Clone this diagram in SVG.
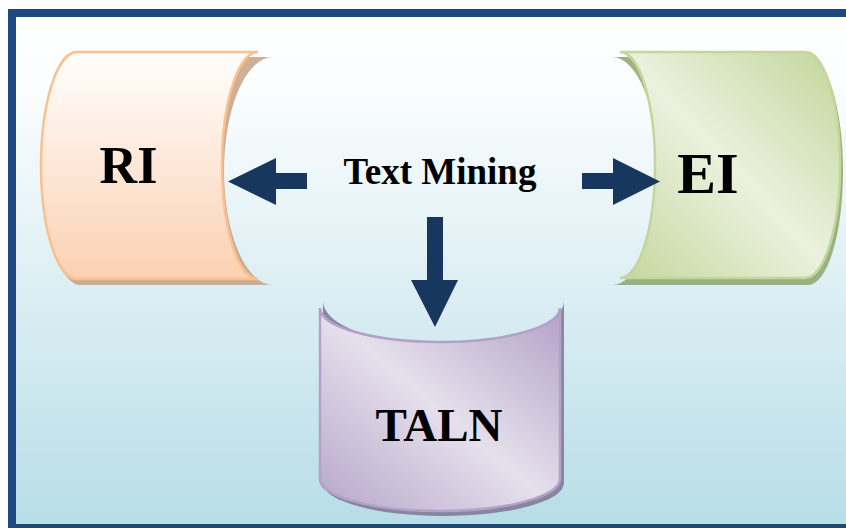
<svg xmlns="http://www.w3.org/2000/svg" width="846" height="528" viewBox="0 0 846 528">
  <defs>
    <linearGradient id="bg" x1="0" y1="0" x2="0" y2="1">
      <stop offset="0" stop-color="#FFFFFF"/>
      <stop offset="0.15" stop-color="#FBFDFE"/>
      <stop offset="1" stop-color="#B7DDE7"/>
    </linearGradient>
    <linearGradient id="peach" x1="0" y1="0" x2="0" y2="1">
      <stop offset="0" stop-color="#FFFEFD"/>
      <stop offset="1" stop-color="#FBD1B1"/>
    </linearGradient>
    <linearGradient id="green" x1="1" y1="0" x2="0" y2="1">
      <stop offset="0" stop-color="#C2D69A"/>
      <stop offset="0.5" stop-color="#EBF1DE"/>
      <stop offset="1" stop-color="#C4D89E"/>
    </linearGradient>
    <linearGradient id="lilac" x1="1" y1="0" x2="0" y2="1">
      <stop offset="0" stop-color="#B3A2C7"/>
      <stop offset="0.5" stop-color="#E6E0EC"/>
      <stop offset="1" stop-color="#B6A6CA"/>
    </linearGradient>
  </defs>
  <style>
    .lbl { font-family: "Liberation Serif", "Times New Roman", serif; font-weight: bold; fill: #000; text-anchor: middle; }
    .arrow { fill: #17375E; }
    .shadow { opacity: 0.85; }
  </style>

  <!-- panel -->
  <rect x="12" y="13" width="850" height="515" fill="url(#bg)" stroke="#1F497D" stroke-width="8"/>

  <!-- RI cylinder (horizontal, opening to the right) -->
  <g id="ri">
    <path class="shadow" d="M80,57 H273 A49,114 0 0 0 273,285 H80 A36,114 0 0 1 80,57 Z" fill="#C4A283"/>
    <path d="M77,52 H258 A36,113.5 0 0 0 258,279 H77 A36,113.5 0 0 1 77,52 Z" fill="url(#peach)" stroke="#FAC090" stroke-width="2.5"/>
    <text class="lbl" x="128.5" y="183" font-size="52">RI</text>
  </g>

  <!-- EI cylinder (horizontal, opening to the left) -->
  <g id="ei">
    <path class="shadow" d="M612,57 H808 A35,114 0 0 1 808,285 H612 A46,114 0 0 0 612,57 Z" fill="#8FA56C"/>
    <path d="M620,52 H805 A35,113 0 0 1 805,278 H620 A35,113 0 0 0 620,52 Z" fill="url(#green)" stroke="#C3D69B" stroke-width="2.5"/>
    <text class="lbl" x="708" y="193" font-size="58">EI</text>
  </g>

  <!-- TALN cylinder (upright, opening at the top) -->
  <g id="taln">
    <path class="shadow" d="M323,301 A120,44 0 0 0 564,301 V483 A120.5,33 0 0 1 323,483 Z" fill="#7E7595"/>
    <path d="M320,308 A120,34 0 0 0 560,308 V479 A120,32 0 0 1 320,479 Z" fill="url(#lilac)" stroke="#B3A2C7" stroke-width="2.5"/>
    <text class="lbl" x="439" y="441" font-size="47">TALN</text>
  </g>

  <!-- central label -->
  <g id="text-mining">
    <text class="lbl" x="440" y="184" font-size="37">Text Mining</text>
  </g>

  <!-- connectors -->
  <g id="connectors">
    <path class="arrow" d="M228,181.5 L276,158 V173 H307 V189 H276 V205 Z"/>
    <path class="arrow" d="M582,173 H613 V158 L660,181.5 L613,205 V189 H582 Z"/>
    <path class="arrow" d="M427,217 H443 V280 H458 L435,327 L411,280 H427 Z"/>
  </g>
</svg>
